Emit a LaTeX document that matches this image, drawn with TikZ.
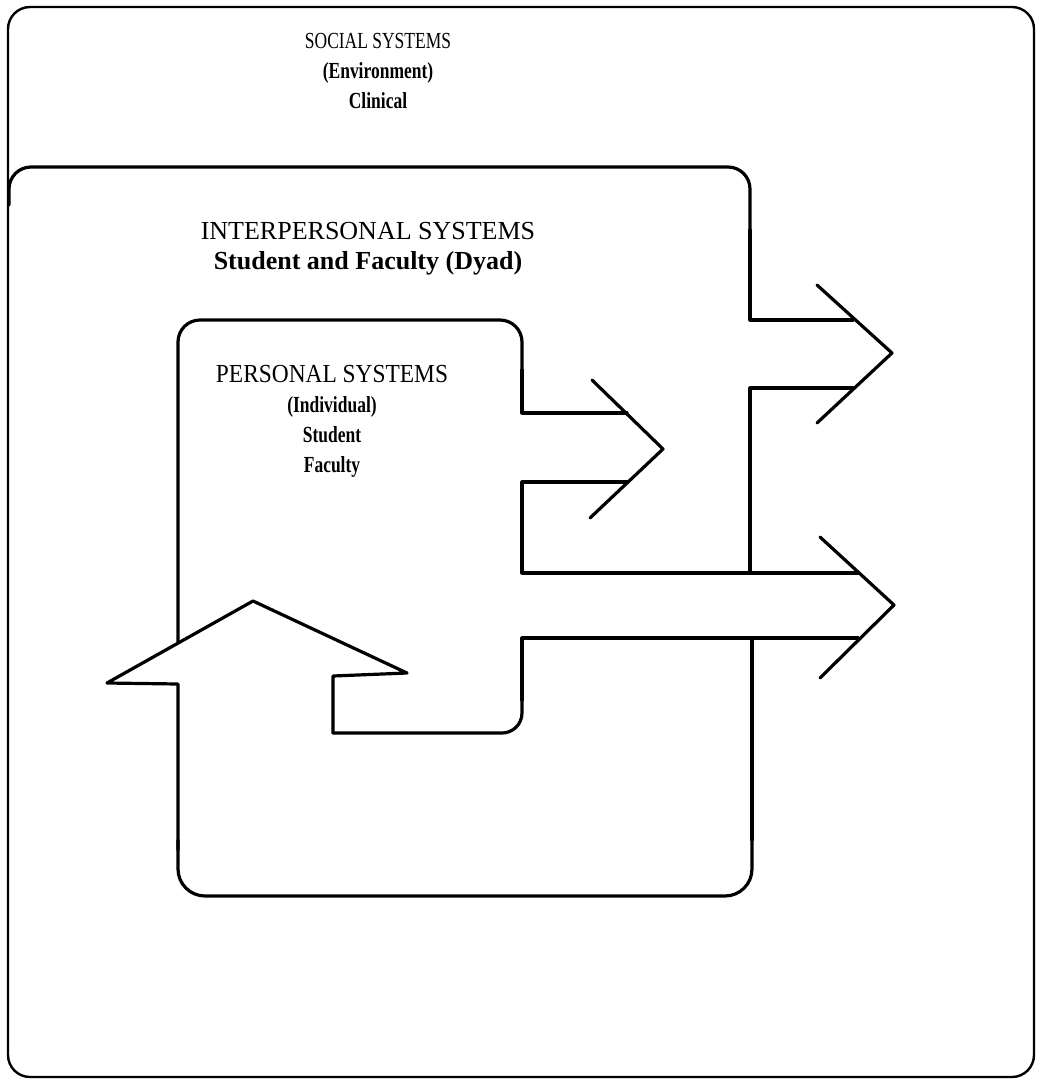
\documentclass[tikz,border=0pt]{standalone}
\usepackage{fontspec}
\setmainfont{Liberation Serif}
\newfontfamily\narrowserif[FakeStretch=0.76]{Liberation Serif}
\newfontfamily\midserif[FakeStretch=0.9]{Liberation Serif}
\begin{document}
\begin{tikzpicture}[x=1pt,y=-1pt,line join=round,line cap=round,
  boxline/.style={line width=2.4pt},
  shapeline/.style={line width=3.2pt},
  lbl/.style={align=center,inner sep=0pt,anchor=north}]
\useasboundingbox (0,0) rectangle (1038,1080);
% outer social systems box
\draw[boxline,rounded corners=22pt] (8,7) rectangle (1034,1077);
% interpersonal systems outline
\draw[shapeline,rounded corners=22pt] (9,205) |- (750,167) -- (750,240);
\draw[shapeline] (750,230) -- (750,320) -- (853,320);
\draw[shapeline] (853,388) -- (750,388) -- (750,573);
\draw[shapeline] (817,285) -- (892,353) -- (817,423);
% personal systems outline
\draw[shapeline,rounded corners=22pt] (178,642) |- (522,320) -- (522,380);
\draw[shapeline] (522,370) -- (522,413) -- (627,413);
\draw[shapeline] (627,482) -- (522,482) -- (522,573) -- (858,573);
\draw[shapeline] (592,380) -- (663,449) -- (590,518);
% lower arrow
\draw[shapeline] (820,537) -- (894,605) -- (820,678);
\draw[shapeline] (858,638) -- (522,638) -- (522,700);
\draw[shapeline,rounded corners=20pt] (522,690) |- (333,733);
\draw[shapeline] (333,733) -- (333,676) -- (407,673) -- (253,601) -- (107,683) -- (178,684) -- (178,850);
\draw[shapeline,rounded corners=27pt] (178,840) |- (752,896) -- (752,830);
\draw[shapeline] (752,840) -- (752,638);
% texts
\node[lbl,font=\narrowserif\fontsize{23}{30}\selectfont] (social) at (378,33) {SOCIAL SYSTEMS\\\bfseries(Environment)\\\bfseries Clinical};
\node[lbl,font=\fontsize{26}{30}\selectfont] (inter) at (368,222) {INTERPERSONAL SYSTEMS\\\bfseries Student and Faculty (Dyad)};
\node[lbl,font=\midserif\fontsize{26}{30}\selectfont] (pers) at (332,365) {PERSONAL SYSTEMS\\\narrowserif\fontsize{23}{30}\selectfont\bfseries(Individual)\\\narrowserif\fontsize{23}{30}\selectfont\bfseries Student\\\narrowserif\fontsize{23}{30}\selectfont\bfseries Faculty};
\end{tikzpicture}
\end{document}
